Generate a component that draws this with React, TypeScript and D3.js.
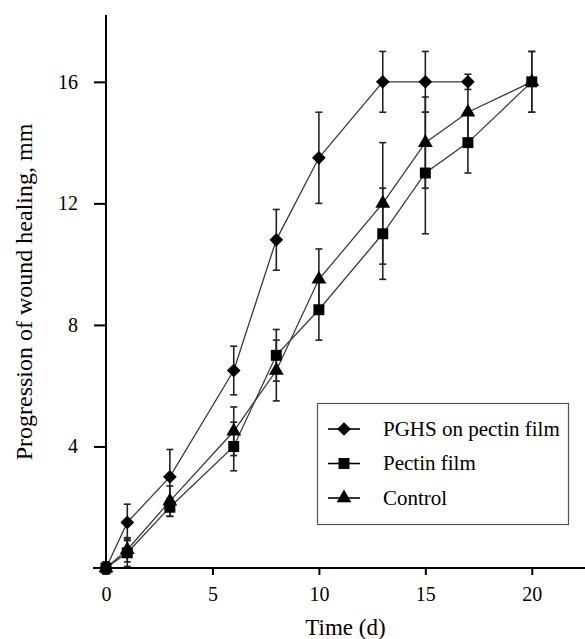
import React, { useRef, useEffect } from "react";
import * as d3 from "d3";

const days = [0, 1, 3, 6, 8, 10, 13, 15, 17, 20];

const pghsDays = [0, 1, 3, 6, 8, 10, 13, 15, 17];
const pghsValues = [0, 1.5, 3, 6.5, 10.8, 13.5, 16, 16, 16];
const pghsErrors = [0.2, 0.6, 0.9, 0.8, 1, 1.5, 1, 1, 0.25];

const pectinValues = [0, 0.5, 2, 4, 7, 8.5, 11, 13, 14, 16];
const pectinErrors = [0.2, 0.45, 0.3, 0.8, 0.85, 1, 1.5, 2, 1, 1];

const controlValues = [0, 0.6, 2.2, 4.5, 6.5, 9.5, 12, 14, 15, 16];
const controlErrors = [0.2, 0.4, 0.5, 0.8, 1, 1, 2, 1.5, 1, 1];

const xTicks = [0, 5, 10, 15, 20];
const yTicks = [4, 8, 12, 16];

const seriesNames = ["PGHS on pectin film", "Pectin film", "Control"];

const FONT = "Liberation Serif, DejaVu Serif, Times New Roman, serif";

const App = () => {
  const ref = useRef<SVGSVGElement>(null);

  useEffect(() => {
    const svg = d3.select(ref.current);
    svg.selectAll("*").remove();

    const x = d3.scaleLinear().domain([0, 22.5]).range([106, 585]);
    const y = d3.scaleLinear().domain([0, 18.2]).range([568, 15]);

    const series = [
      { name: seriesNames[0], xs: pghsDays, vs: pghsValues, es: pghsErrors, shape: d3.symbolDiamond2 },
      { name: seriesNames[1], xs: days, vs: pectinValues, es: pectinErrors, shape: d3.symbolSquare },
      { name: seriesNames[2], xs: days, vs: controlValues, es: controlErrors, shape: d3.symbolTriangle },
    ];

    // axes
    const yAxis = svg.append("g")
      .attr("transform", `translate(${x(0)},0)`)
      .call(d3.axisLeft(y).tickValues(yTicks).tickSize(12).tickPadding(16).tickFormat(d3.format("d")));
    yAxis.select(".domain").attr("d", `M0,${y(18.2)}V${y(0)}`);

    const xAxis = svg.append("g")
      .attr("transform", `translate(0,${y(0)})`)
      .call(d3.axisBottom(x).tickValues(xTicks).tickSize(7).tickPadding(12).tickFormat(d3.format("d")));
    xAxis.select(".domain").attr("d", `M${x(0) - 13},0H585`);

    svg.selectAll("g").attr("font-family", null);
    svg.selectAll(".domain").attr("stroke", "#000").attr("stroke-width", 2);
    svg.selectAll(".tick line").attr("stroke", "#000").attr("stroke-width", 2);
    svg.selectAll(".tick text")
      .style("font-family", FONT)
      .attr("font-size", 20)
      .attr("fill", "#000");

    svg.append("text")
      .attr("x", (x(0) + 585) / 2)
      .attr("y", 635)
      .attr("text-anchor", "middle")
      .style("font-family", FONT)
      .attr("font-size", 23)
      .text("Time (d)");

    svg.append("text")
      .attr("transform", `translate(32,${292}) rotate(-90)`)
      .attr("text-anchor", "middle")
      .style("font-family", FONT)
      .attr("font-size", 24)
      .text("Progression of wound healing, mm");

    const line = d3.line<[number, number]>()
      .x(d => x(d[0]))
      .y(d => y(d[1]));

    series.forEach(s => {
      const pts: [number, number][] = s.xs.map((d, i) => [d, s.vs[i]]);
      svg.append("path")
        .datum(pts)
        .attr("fill", "none")
        .attr("stroke", "#3a3a3a")
        .attr("stroke-width", 1.3)
        .attr("d", line);
    });

    series.forEach(s => {
      const g = svg.append("g").attr("stroke", "#222").attr("stroke-width", 1.6);
      s.xs.forEach((d, i) => {
        const cx = x(d);
        const top = y(s.vs[i] + s.es[i]);
        const bot = y(s.vs[i] - s.es[i]);
        g.append("line").attr("x1", cx).attr("x2", cx).attr("y1", top).attr("y2", bot);
        g.append("line").attr("x1", cx - 3.5).attr("x2", cx + 3.5).attr("y1", top).attr("y2", top);
        g.append("line").attr("x1", cx - 3.5).attr("x2", cx + 3.5).attr("y1", bot).attr("y2", bot);
      });
    });

    series.forEach(s => {
      const sym = d3.symbol().type(s.shape).size(s.shape === d3.symbolTriangle ? 95 : 120);
      svg.append("g")
        .selectAll("path")
        .data(s.xs.map((d, i) => [d, s.vs[i]]))
        .join("path")
        .attr("transform", d => `translate(${x(d[0])},${y(d[1])})`)
        .attr("d", sym)
        .attr("fill", "#000");
    });

    // legend
    const legend = svg.append("g");
    legend.append("rect")
      .attr("x", 317.5)
      .attr("y", 403.5)
      .attr("width", 251)
      .attr("height", 121)
      .attr("fill", "#fff")
      .attr("stroke", "#555")
      .attr("stroke-width", 1.2);

    series.forEach((s, i) => {
      const ly = 429 + i * 34.5;
      legend.append("line")
        .attr("x1", 328).attr("x2", 360)
        .attr("y1", ly).attr("y2", ly)
        .attr("stroke", "#000").attr("stroke-width", 1.6);
      legend.append("path")
        .attr("transform", `translate(344,${ly})`)
        .attr("d", d3.symbol().type(s.shape).size(s.shape === d3.symbolTriangle ? 95 : 120)())
        .attr("fill", "#000");
      legend.append("text")
        .attr("x", 383)
        .attr("y", ly)
        .attr("dy", "0.33em")
        .style("font-family", FONT)
        .attr("font-size", 21)
        .text(s.name);
    });
  }, []);

  return (
    <svg
      ref={ref}
      width={585}
      height={639}
      style={{ position: "absolute", left: 0, top: 0, background: "#fff" }}
    ></svg>
  );
};

export default App;
